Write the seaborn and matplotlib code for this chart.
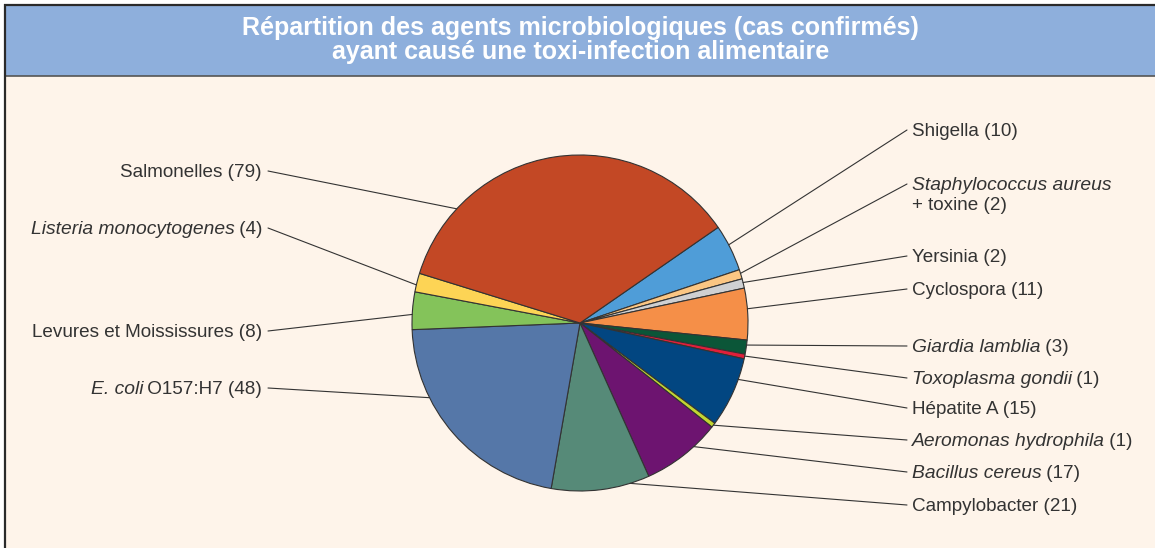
import numpy as np
import matplotlib
matplotlib.use("Agg")
import matplotlib.pyplot as plt
import seaborn as sns
from matplotlib.patches import Rectangle

# ---------------- data ----------------
agents = ["Shigella", "Staphylococcus aureus", "Yersinia", "Cyclospora",
          "Giardia lamblia", "Toxoplasma gondii", "Hépatite A",
          "Aeromonas hydrophila", "Bacillus cereus", "Campylobacter",
          "E. coli", "Levures et Moississures", "Listeria monocytogenes",
          "Salmonelles"]
counts = [10, 2, 2, 11, 3, 1, 15, 1, 17, 21, 48, 8, 4, 79]
italic = [False, True, False, False, True, True, False, True, True, False,
          True, False, True, False]
suffixes = ["", "\n+ toxine", "", "", "", "", "", "", "", "", " O157:H7", "", "", ""]
colors = ["#4f9dd8", "#fbc683", "#cfd0d2", "#f58f48", "#0b5638", "#e11f3a",
          "#024681", "#c2d532", "#6d1470", "#568a78", "#5577a8", "#84c35a",
          "#fdd455", "#c34825"]
title_lines = ["Répartition des agents microbiologiques (cas confirmés)",
               "ayant causé une toxi-infection alimentaire"]

# ---------------- layout ----------------
W, H = 1155, 548
PIE_CX, PIE_CY, PIE_R = 580, 323, 168
START = 34.7
right_idx = list(range(10))
right_y = [130, 184, 256, 289, 346, 378, 408, 440, 472, 505]
left_idx = [10, 11, 12, 13]
left_y = [388, 331, 228, 171]
anchor_frac = [0.57, 0.6, 0.6, 0.6, 0.65, 0.6, 0.7, 0.5, 0.67, 0.8,
               0.31, 0.6, 0.63, 0.8]
RX_TEXT, RX_LINE = 912, 907
LX_TEXT, LX_LINE = 262, 268
FS = 13.6
FS_IT = 13.9
TXT = "#333333"

sns.set_theme(style="white")
plt.rcParams['font.family'] = ['Liberation Sans', 'DejaVu Sans']

fig = plt.figure(figsize=(W / 100, H / 100), dpi=100)
fig.patch.set_facecolor("white")
ax = fig.add_axes([0, 0, 1, 1])


def py(y):
    return H - y


# background panels
ax.add_patch(Rectangle((4, py(H + 20)), W + 20, H + 20 - 76,
                       facecolor="#fef4ea", edgecolor="none", zorder=0))
ax.add_patch(Rectangle((4, py(76)), W + 20, 72,
                       facecolor="#8eafdc", edgecolor="none", zorder=0))
ax.plot([4, W + 5], [py(4.5), py(4.5)], color="#2a2a2a", lw=1.6, zorder=0.5,
        solid_capstyle="butt")
ax.plot([4, W + 5], [py(76), py(76)], color="#555555", lw=1.2, zorder=0.5,
        solid_capstyle="butt")
ax.plot([4.5, 4.5], [py(4), py(H + 5)], color="#2a2a2a", lw=1.6, zorder=0.5,
        solid_capstyle="butt")

# title
ax.text(580.5, py(34.5), title_lines[0], ha="center", va="baseline",
        color="white", fontsize=18, fontweight="bold", zorder=3)
ax.text(580.5, py(58.5), title_lines[1], ha="center", va="baseline",
        color="white", fontsize=18, fontweight="bold", zorder=3)

# pie
wedges, _ = ax.pie(counts, colors=colors, startangle=START, counterclock=False,
                   center=(PIE_CX, py(PIE_CY)), radius=PIE_R, frame=True,
                   wedgeprops=dict(edgecolor="#333333", linewidth=0.8))
ax.set_xlim(0, W)
ax.set_ylim(0, H)
ax.set_aspect("equal")
ax.axis("off")

fig.canvas.draw()
renderer = fig.canvas.get_renderer()


def edge_point(i):
    w = wedges[i]
    a = np.deg2rad(w.theta1 + anchor_frac[i] * (w.theta2 - w.theta1))
    return PIE_CX + PIE_R * np.cos(a), py(PIE_CY) + PIE_R * np.sin(a)


def width_of(t):
    return t.get_window_extent(renderer).width


BASE_OFF = 6.0
GAP_FIX = 1.0

for i, y in zip(right_idx, right_y):
    cnt = f"({counts[i]})"
    if suffixes[i].startswith("\n"):
        ax.text(RX_TEXT, py(y + BASE_OFF), agents[i],
                style="italic" if italic[i] else "normal",
                fontsize=FS_IT if italic[i] else FS,
                ha="left", va="baseline", color=TXT)
        ax.text(RX_TEXT, py(y + 20 + BASE_OFF), f"{suffixes[i].strip()} {cnt}",
                ha="left", va="baseline", fontsize=FS, color=TXT)
    else:
        if italic[i]:
            t1 = ax.text(RX_TEXT, py(y + BASE_OFF), agents[i], style="italic",
                         ha="left", va="baseline", fontsize=FS_IT, color=TXT)
            w = width_of(t1) - GAP_FIX
            ax.text(RX_TEXT + w, py(y + BASE_OFF), f"{suffixes[i]} {cnt}",
                    ha="left", va="baseline", fontsize=FS, color=TXT)
        else:
            ax.text(RX_TEXT, py(y + BASE_OFF), f"{agents[i]}{suffixes[i]} {cnt}",
                    ha="left", va="baseline", fontsize=FS, color=TXT)
    ex, ey = edge_point(i)
    ax.plot([ex, RX_LINE], [ey, py(y)], color="#333333", lw=0.8, zorder=2)

for i, y in zip(left_idx, left_y):
    cnt = f"({counts[i]})"
    if italic[i]:
        t2 = ax.text(LX_TEXT, py(y + BASE_OFF), f"{suffixes[i]} {cnt}",
                     ha="right", va="baseline", fontsize=FS, color=TXT)
        w = width_of(t2)
        ax.text(LX_TEXT - w + GAP_FIX, py(y + BASE_OFF), agents[i], style="italic",
                ha="right", va="baseline", fontsize=FS_IT, color=TXT)
    else:
        ax.text(LX_TEXT, py(y + BASE_OFF), f"{agents[i]}{suffixes[i]} {cnt}",
                ha="right", va="baseline", fontsize=FS, color=TXT)
    ex, ey = edge_point(i)
    ax.plot([LX_LINE, ex], [py(y), ey], color="#333333", lw=0.8, zorder=2)

fig.savefig("out.png", dpi=100, facecolor=fig.get_facecolor())
